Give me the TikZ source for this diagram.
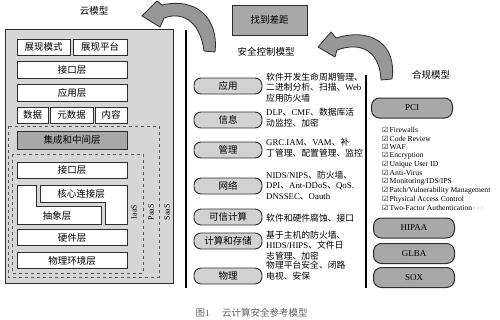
\documentclass[tikz,border=0pt]{standalone}
\usepackage{fontspec}
\setmainfont{Liberation Serif}
\newfontfamily\cjk{Noto Sans CJK SC}
\newfontfamily\symf{DejaVu Sans}
\usetikzlibrary{calc}
\definecolor{panelgray}{RGB}{214,214,214}
\definecolor{midgray}{RGB}{168,168,168}
\definecolor{pillgray}{RGB}{210,210,210}
\definecolor{edgegray}{RGB}{45,45,45}
\newcommand{\en}[1]{{\rmfamily #1}}

\begin{document}
\begin{tikzpicture}[x=1pt, y=-1pt, font=\cjk\fontsize{9.5}{11}\selectfont,
  layer/.style={draw=edgegray, fill=white, line width=0.8pt, minimum height=16pt, inner sep=0pt},
  ctrl/.style={draw=edgegray, fill=pillgray, line width=0.9pt, rounded corners=7pt,
    minimum width=68pt, minimum height=16pt, inner sep=0pt},
  comp/.style={draw=edgegray, fill=midgray, line width=1pt, rounded corners=8pt,
    minimum width=81pt, minimum height=20pt, inner sep=0pt, font=\rmfamily\fontsize{9}{10}\selectfont},
  desc/.style={anchor=west, align=left, inner sep=0pt, font=\cjk\fontsize{8.8}{10.6}\selectfont},
  svc/.style={rotate=90, inner sep=0pt, font=\rmfamily\fontsize{8}{9}\selectfont},
  dashbox/.style={draw=edgegray!80, dashed, line width=0.8pt},
  bigarrow/.style={fill=midgray!90!black, draw=edgegray, line width=0.8pt, line join=round}]
  \useasboundingbox (0,0) rectangle (500,319);

  % Cloud model
  \node (cloudtitle) at (94,11) {云模型};
  \node[draw=edgegray, fill=panelgray, line width=1pt, minimum width=168pt, minimum height=254pt] (cloud) at (89,156) {};
  \node[layer, minimum width=53pt] (present1) at (43.5,47) {展现模式};
  \node[layer, minimum width=54pt] (present2) at (100,47) {展现平台};
  \node[layer, minimum width=110pt, minimum height=17pt] (api1) at (72,69.5) {接口层};
  \node[layer, minimum width=110pt, minimum height=17pt] (app) at (72,92.5) {应用层};
  \node[layer, minimum width=31pt] (data) at (32.5,115) {数据};
  \node[layer, minimum width=43pt] (meta) at (71.5,115) {元数据};
  \node[layer, minimum width=32pt] (content) at (111,115) {内容};
  % SaaS / PaaS frames
  \draw[dashbox] (8,126) rectangle (159,277);
  \draw[dashbox] (12,154) rectangle (143,273);
  \node[layer, fill=midgray, minimum width=110pt, minimum height=18pt] (mid) at (72,140) {集成和中间层};
  \node[layer, minimum width=110pt] (api2) at (72,170) {接口层};
  % interlocking core / abstraction layers
  \draw[draw=edgegray, fill=white, line width=0.8pt] (17,185) -- (36,185) -- (36,206) -- (101,206) -- (101,224) -- (17,224) -- cycle;
  \draw[draw=edgegray, fill=white, line width=0.8pt] (40,185) -- (127,185) -- (127,224) -- (105,224) -- (105,202) -- (40,202) -- cycle;
  \node (core) at (81,194) {核心连接层};
  \node (abstr) at (57,215.5) {抽象层};
  \node[layer, minimum width=110pt] (hw) at (72,237.5) {硬件层};
  \node[layer, minimum width=110pt] (phys) at (72,260.5) {物理环境层};
  \node[svc] (iaas) at (134,212) {IaaS};
  \node[svc] (paas) at (151,212) {PaaS};
  \node[svc] (saas) at (167,212) {SaaS};

  % Security control model
  \draw[line width=1.3pt] (186,30) -- (186,288);
  \draw[line width=1.3pt] (366,75) -- (366,288);
  \node[draw=edgegray, fill=midgray, line width=1pt, minimum width=75pt, minimum height=30pt] (gap) at (269.5,20) {找到差距};
  \node (ctrltitle) at (266,52) {安全控制模型};
  \node[ctrl] (c1) at (228,86) {应用};
  \node[ctrl] (c2) at (228,120) {信息};
  \node[ctrl] (c3) at (228,150) {管理};
  \node[ctrl] (c4) at (228,186) {网络};
  \node[ctrl] (c5) at (228,217) {可信计算};
  \node[ctrl] (c6) at (228,241) {计算和存储};
  \node[ctrl] (c7) at (228,276) {物理};
  \node[desc] (d1) at (266,87.5) {软件开发生命周期管理、\\二进制分析、扫描、\en{Web}\\应用防火墙};
  \node[desc] (d2) at (266,117.5) {\en{DLP}、\en{CMF}、数据库活\\动监控、加密};
  \node[desc] (d3) at (266,147.5) {\en{GRC.IAM}、\en{VAM}、补\\丁管理、配置管理、监控};
  \node[desc] (d4) at (266,185.5) {\en{NIDS/NIPS}、防火墙、\\\en{DPI}、\en{Ant-DDoS}、\en{QoS.}\\\en{DNSSEC}、\en{Oauth}};
  \node[desc] (d5) at (266,218) {软件和硬件腐蚀、接口};
  \node[desc] (d6) at (266,245.5) {基于主机的防火墙、\\\en{HIDS/HIPS}、文件日\\志管理、加密};
  \node[desc] (d7) at (266,270.5) {物理平台安全、闭路\\电视、安保};

  % Compliance model
  \node (comptitle) at (431,75) {合规模型};
  \node[comp] (pci) at (412,108) {PCI};
  \foreach \i/\t in {0/{Firewalls}, 1/{Code Review}, 2/{WAF}, 3/{Encryption}, 4/{Unique User ID},
    5/{Anti-Virus}, 6/{Monitoring/IDS/IPS}, 7/{Patch/Vulnerability Management},
    8/{Physical Access Control}, 9/{Two-Factor Authentication\,$\cdots$}}
    \node[anchor=west, inner sep=0pt, font=\rmfamily\fontsize{7.6}{8}\selectfont] (chk\i) at (382,130+8.65*\i) {{\symf\fontsize{7}{7}\selectfont ☑}\,\t};
  \node[comp] (hipaa) at (414,228) {HIPAA};
  \node[comp] (glba) at (414,253.5) {GLBA};
  \node[comp] (sox) at (414,277.5) {SOX};

  % Curved arrows
  \filldraw[bigarrow] (215,52) .. controls (219,18) and (196,-3) .. (162,5) -- (157,1) -- (142,16) -- (160,27) -- (164,18)
    .. controls (186,10) and (201,26) .. (204,51) -- cycle;
  \filldraw[bigarrow] (392,79) .. controls (397,45) and (372,27) .. (336,38) -- (331,32) -- (318,47) -- (335,57) -- (337,50)
    .. controls (362,41) and (380,52) .. (381,80) -- cycle;

  \node[anchor=west, text=gray!75!black] (figcap) at (192,313) {图\en{1}\hspace{1.3em}云计算安全参考模型};
\end{tikzpicture}
\end{document}
